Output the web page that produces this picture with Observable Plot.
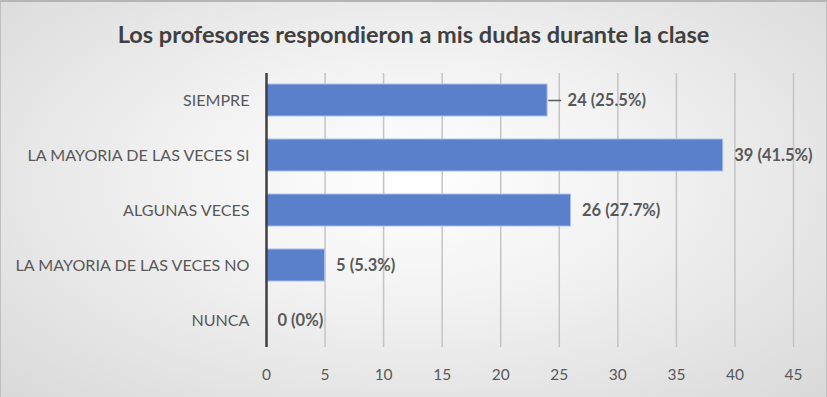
<!DOCTYPE html>
<html><head><meta charset="utf-8">
<script src="https://cdn.jsdelivr.net/npm/d3@7"></script>
<script src="https://cdn.jsdelivr.net/npm/@observablehq/plot@0.6"></script>
<style>
html,body{margin:0;padding:0;}
#wrap{width:825px;height:395px;border:1px solid #bfbfbf;border-top:2px solid #b5b5b5;background:radial-gradient(ellipse at 50% 45%, #ffffff 0%, #f2f2f2 40%, #d9d9d9 100%);font-family:Lato,"Open Sans",sans-serif;overflow:hidden;}
#title{height:63px;line-height:64px;text-align:center;font-size:23.5px;font-weight:bold;color:#404040;}
#chart svg text{font-family:Lato,"Open Sans",sans-serif;}
</style></head>
<body><div id="wrap"><div id="title">Los profesores respondieron a mis dudas durante la clase</div><div id="chart"></div></div>
<script>
const categories = ["SIEMPRE","LA MAYORIA DE LAS VECES SI","ALGUNAS VECES","LA MAYORIA DE LAS VECES NO","NUNCA"];
const counts = [24, 39, 26, 5, 0];
const percents = ["25.5%","41.5%","27.7%","5.3%","0%"];
const xTicks = [0,5,10,15,20,25,30,35,40,45];
const data = categories.map((c,i)=>({cat:c, value:counts[i], label:`${counts[i]} (${percents[i]})`}));
const lead = data.filter(d=>d.cat==="SIEMPRE");
const rest = data.filter(d=>d.cat!=="SIEMPRE");
const chart = Plot.plot({
  width: 825, height: 331,
  marginTop: 8, marginBottom: 49, marginLeft: 265, marginRight: 33,
  style: {background: "transparent", fontFamily: "Lato, 'Open Sans', sans-serif", fontSize: "15.5px", color: "#595959"},
  x: {domain: [0,45], label: null},
  y: {domain: categories, label: null, paddingInner: 0.42, paddingOuter: 0.2},
  marks: [
    Plot.gridX(xTicks.filter(t=>t>0), {stroke: "#c4c4c4", strokeOpacity: 1, strokeWidth: 1.5}),
    Plot.barX(data, {y: "cat", x: "value", fill: "#5a7fcb", stroke: "#a9bfe8", strokeWidth: 1}),
    Plot.ruleY(lead, {y: "cat", x1: d=>d.value+0.1, x2: d=>d.value+1.2, stroke: "#595959", strokeWidth: 1.5}),
    Plot.text(lead, {y: "cat", x: d=>d.value+1.2, text: "label", textAnchor: "start", dx: 6, fontWeight: "bold", fill: "#595959", fontSize: 16.5}),
    Plot.text(rest, {y: "cat", x: "value", text: "label", textAnchor: "start", dx: 11, fontWeight: "bold", fill: "#595959", fontSize: 16.5}),
    Plot.axisX({ticks: xTicks, tickSize: 0, tickPadding: 21, fontSize: 15.5, label: null}),
    Plot.axisY({tickSize: 0, tickPadding: 17, fontSize: 16.1, label: null}),
    Plot.ruleX([0], {stroke: "#404040", strokeWidth: 2.5})
  ]
});
document.getElementById("chart").append(chart);
</script></body></html>
